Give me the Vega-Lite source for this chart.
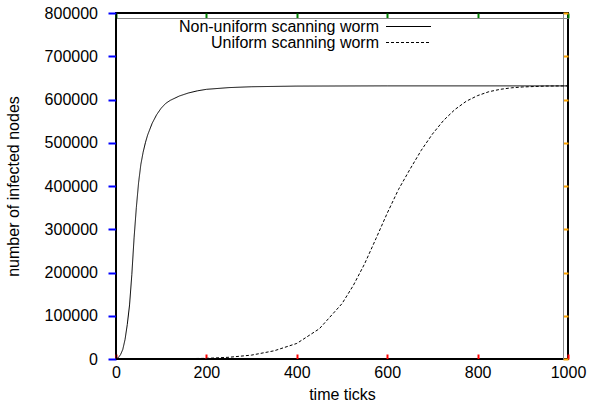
{
  "$schema": "https://vega.github.io/schema/vega-lite/v6.json",
  "width": 452,
  "height": 346,
  "autosize": {"type": "none"},
  "padding": {"left": 116, "top": 13, "right": 30, "bottom": 51},
  "background": "white",
  "config": {
    "font": "Liberation Sans",
    "view": {"stroke": "black", "strokeWidth": 2}
  },
  "data": {
    "values": [
      {"t": 0, "n": 0, "series": "Non-uniform scanning worm"},
      {"t": 5, "n": 3000, "series": "Non-uniform scanning worm"},
      {"t": 10, "n": 10000, "series": "Non-uniform scanning worm"},
      {"t": 15, "n": 22000, "series": "Non-uniform scanning worm"},
      {"t": 20, "n": 45000, "series": "Non-uniform scanning worm"},
      {"t": 25, "n": 80000, "series": "Non-uniform scanning worm"},
      {"t": 30, "n": 125000, "series": "Non-uniform scanning worm"},
      {"t": 35, "n": 195000, "series": "Non-uniform scanning worm"},
      {"t": 40, "n": 280000, "series": "Non-uniform scanning worm"},
      {"t": 45, "n": 350000, "series": "Non-uniform scanning worm"},
      {"t": 50, "n": 408000, "series": "Non-uniform scanning worm"},
      {"t": 55, "n": 450000, "series": "Non-uniform scanning worm"},
      {"t": 60, "n": 478000, "series": "Non-uniform scanning worm"},
      {"t": 65, "n": 500000, "series": "Non-uniform scanning worm"},
      {"t": 70, "n": 518000, "series": "Non-uniform scanning worm"},
      {"t": 80, "n": 545000, "series": "Non-uniform scanning worm"},
      {"t": 90, "n": 565000, "series": "Non-uniform scanning worm"},
      {"t": 100, "n": 580000, "series": "Non-uniform scanning worm"},
      {"t": 110, "n": 591000, "series": "Non-uniform scanning worm"},
      {"t": 120, "n": 598000, "series": "Non-uniform scanning worm"},
      {"t": 140, "n": 608000, "series": "Non-uniform scanning worm"},
      {"t": 160, "n": 615000, "series": "Non-uniform scanning worm"},
      {"t": 180, "n": 620000, "series": "Non-uniform scanning worm"},
      {"t": 200, "n": 623500, "series": "Non-uniform scanning worm"},
      {"t": 250, "n": 627500, "series": "Non-uniform scanning worm"},
      {"t": 300, "n": 629500, "series": "Non-uniform scanning worm"},
      {"t": 400, "n": 631000, "series": "Non-uniform scanning worm"},
      {"t": 600, "n": 631500, "series": "Non-uniform scanning worm"},
      {"t": 1000, "n": 631500, "series": "Non-uniform scanning worm"},
      {"t": 0, "n": 50, "series": "Uniform scanning worm"},
      {"t": 100, "n": 400, "series": "Uniform scanning worm"},
      {"t": 150, "n": 800, "series": "Uniform scanning worm"},
      {"t": 200, "n": 1500, "series": "Uniform scanning worm"},
      {"t": 250, "n": 4000, "series": "Uniform scanning worm"},
      {"t": 300, "n": 9000, "series": "Uniform scanning worm"},
      {"t": 350, "n": 19000, "series": "Uniform scanning worm"},
      {"t": 400, "n": 36000, "series": "Uniform scanning worm"},
      {"t": 450, "n": 70000, "series": "Uniform scanning worm"},
      {"t": 500, "n": 128000, "series": "Uniform scanning worm"},
      {"t": 525, "n": 170000, "series": "Uniform scanning worm"},
      {"t": 550, "n": 220000, "series": "Uniform scanning worm"},
      {"t": 575, "n": 278000, "series": "Uniform scanning worm"},
      {"t": 600, "n": 337000, "series": "Uniform scanning worm"},
      {"t": 625, "n": 392000, "series": "Uniform scanning worm"},
      {"t": 650, "n": 438000, "series": "Uniform scanning worm"},
      {"t": 675, "n": 482000, "series": "Uniform scanning worm"},
      {"t": 700, "n": 520000, "series": "Uniform scanning worm"},
      {"t": 725, "n": 552000, "series": "Uniform scanning worm"},
      {"t": 750, "n": 577000, "series": "Uniform scanning worm"},
      {"t": 775, "n": 596000, "series": "Uniform scanning worm"},
      {"t": 800, "n": 609000, "series": "Uniform scanning worm"},
      {"t": 825, "n": 618000, "series": "Uniform scanning worm"},
      {"t": 850, "n": 623500, "series": "Uniform scanning worm"},
      {"t": 875, "n": 627000, "series": "Uniform scanning worm"},
      {"t": 900, "n": 629000, "series": "Uniform scanning worm"},
      {"t": 950, "n": 631000, "series": "Uniform scanning worm"},
      {"t": 1000, "n": 631500, "series": "Uniform scanning worm"}
    ]
  },
  "layer": [
    {
      "mark": {"type": "line", "color": "black", "strokeWidth": 1},
      "encoding": {
        "x": {
          "field": "t",
          "type": "quantitative",
          "scale": {"domain": [0, 1000], "nice": false},
          "axis": {
            "orient": "bottom",
            "tickCount": 5,
            "format": "d",
            "tickSize": -5,
            "tickColor": "red",
            "tickWidth": 2,
            "grid": false,
            "domainColor": "black",
            "labelFont": "Liberation Sans",
            "labelFontSize": 16,
            "labelColor": "black",
            "labelFlush": false,
            "labelPadding": 10,
            "title": "time ticks",
            "titleFont": "Liberation Sans",
            "titleFontSize": 16,
            "titleFontWeight": "normal",
            "titleColor": "black",
            "titlePadding": 6
          }
        },
        "y": {
          "field": "n",
          "type": "quantitative",
          "scale": {"domain": [0, 800000], "nice": false},
          "axis": {
            "orient": "left",
            "tickCount": 8,
            "format": "d",
            "tickSize": 8,
            "tickColor": "blue",
            "tickWidth": 2,
            "grid": false,
            "domainColor": "black",
            "labelFont": "Liberation Sans",
            "labelFontSize": 16,
            "labelColor": "black",
            "labelFlush": false,
            "labelPadding": 10.5,
            "title": "number of infected nodes",
            "titleFont": "Liberation Sans",
            "titleFontSize": 16,
            "titleFontWeight": "normal",
            "titleColor": "black",
            "titlePadding": 23
          }
        },
        "strokeDash": {
          "field": "series",
          "type": "nominal",
          "scale": {"domain": ["Non-uniform scanning worm", "Uniform scanning worm"], "range": [[1, 0], [3, 2]]},
          "legend": {
            "orient": "none",
            "legendX": 284.5,
            "legendY": 5.5,
            "title": null,
            "padding": 0,
            "symbolType": "M-5,0H5",
            "symbolSize": 81,
            "symbolStrokeWidth": 1,
            "symbolStrokeColor": "black",
            "labelAlign": "right",
            "labelOffset": -37.5,
            "labelFont": "Liberation Sans",
            "labelFontSize": 16,
            "labelColor": "black",
            "labelLimit": 400,
            "rowPadding": -1
          }
        }
      }
    },
    {
      "mark": {"type": "line", "opacity": 0},
      "encoding": {
        "x": {"field": "t", "type": "quantitative", "axis": {"orient": "top", "tickCount": 5, "labelExpr": "''", "title": null, "tickSize": 5, "offset": -5, "tickColor": "green", "tickWidth": 2}},
        "y": {"field": "n", "type": "quantitative", "axis": {"orient": "right", "tickCount": 8, "labelExpr": "''", "title": null, "grid": false, "tickSize": 5, "offset": -5, "tickColor": "orange", "tickWidth": 2}}
      }
    }
  ],
  "resolve": {"axis": {"x": "independent", "y": "independent"}}
}
